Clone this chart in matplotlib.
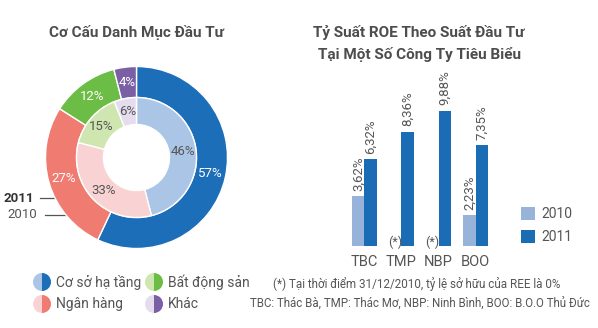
import matplotlib
matplotlib.use('Agg')
import matplotlib.pyplot as plt
from matplotlib.patches import Wedge
import numpy as np

plt.rcParams['font.family'] = ['Roboto', 'DejaVu Sans']

# portfolio structure (%)
sectors = ['Cơ sở hạ tầng', 'Ngân hàng', 'Bất động sản', 'Khác']
share_2011 = [57, 27, 12, 4]
share_2010 = [46, 33, 15, 6]
dark_cols = ['#1b6eb7', '#f07b70', '#6cbd45', '#7b5fa5']
light_cols = ['#abc5e7', '#f9d3d3', '#cfe6b0', '#e5ddee']

# ROE by company (%), None = not held
companies = ['TBC', 'TMP', 'NBP', 'BOO']
roe_2010 = [3.62, None, None, 2.23]
roe_2011 = [6.32, 8.36, 9.88, 7.35]
c2010 = '#97b3d9'
c2011 = '#1a6cb4'

grey = '#555555'
W, H = 598, 328
fig = plt.figure(figsize=(W / 100, H / 100), dpi=100)

# ---------- donut ----------
cx, cy, R = 136.5, 157.5, 91
ax = fig.add_axes([(cx - R) / W, (H - cy - R) / H, 2 * R / W, 2 * R / H])
r_mid, r_hole = 60 / R, 33 / R

w_out, t_out, a_out = ax.pie(share_2011, colors=dark_cols, startangle=90, counterclock=False,
                             radius=1, autopct='%d%%', pctdistance=0.83,
                             wedgeprops=dict(width=1 - r_mid, edgecolor='white', linewidth=1))
w_in, t_in, a_in = ax.pie(share_2010, colors=light_cols, startangle=90, counterclock=False,
                          radius=r_mid, autopct='%d%%', pctdistance=(46.5 / R) / r_mid,
                          wedgeprops=dict(width=r_mid - r_hole, edgecolor='white', linewidth=1))
for t in a_out:
    t.set_color('white')
    t.set_fontsize(9.5)
for t in a_in:
    t.set_color(grey)
    t.set_fontsize(9.5)
ax.set_xlim(-1, 1)
ax.set_ylim(-1, 1)
ax.axis('off')

# ---------- bars ----------
x = np.arange(len(companies))
bw = 0.33
bx = fig.add_axes([345.7 / W, (H - 245.7) / H, 148.6 / W, 136.5 / H])
v10 = [np.nan if v is None else v for v in roe_2010]
b10 = bx.bar(x - bw / 2, v10, bw, color=c2010, label='2010')
b11 = bx.bar(x + bw / 2, roe_2011, bw, color=c2011, label='2011')
bx.set_xlim(-0.5, 3.5)
bx.set_ylim(0, 10)
for i in range(len(companies)):
    if roe_2010[i] is None:
        bx.text(x[i] - bw / 2, 0.25, '(*)', ha='center', va='center', color=grey, fontsize=9)
    else:
        bx.annotate(f'{roe_2010[i]:.2f}%'.replace('.', ','), (x[i] - bw / 2, roe_2010[i]),
                    xytext=(0, 4), textcoords='offset points', rotation=90,
                    ha='center', va='bottom', color=grey, fontsize=9.5, annotation_clip=False)
    bx.annotate(f'{roe_2011[i]:.2f}%'.replace('.', ','), (x[i] + bw / 2, roe_2011[i]),
                xytext=(0, 4), textcoords='offset points', rotation=90,
                ha='center', va='bottom', color=grey, fontsize=9.5, annotation_clip=False)
bx.set_xticks(x)
bx.set_xticklabels(companies, color=grey, fontsize=10.5)
bx.tick_params(axis='x', length=0, pad=7)
bx.set_yticks([])
for s in bx.spines.values():
    s.set_visible(False)
bx.legend(handles=[b10, b11], loc='upper left', bbox_to_anchor=(521 / W, 1 - 207 / H),
          bbox_transform=fig.transFigure, frameon=False, fontsize=10, labelcolor=grey,
          handlelength=1.0, handleheight=1.1, handletextpad=0.5, labelspacing=0.6,
          borderpad=0, borderaxespad=0)

# ---------- overlay: titles, pointers, legend, notes ----------
ov = fig.add_axes([0, 0, 1, 1], zorder=-1)
ov.set_xlim(0, W)
ov.set_ylim(H, 0)
ov.axis('off')

ov.text(136, 32, 'Cơ Cấu Danh Mục Đầu Tư', ha='center', va='center',
        fontsize=11, fontweight='bold', color='#4d4d4d')
ov.text(419, 33, 'Tỷ Suất ROE Theo Suất Đầu Tư', ha='center', va='center',
        fontsize=11, fontweight='bold', color='#4d4d4d')
ov.text(419, 55, 'Tại Một Số Công Ty Tiêu Biểu', ha='center', va='center',
        fontsize=11, fontweight='bold', color='#4d4d4d')

ov.text(34, 198, '2011', ha='right', va='center', fontsize=9.5, fontweight='bold', color='#333333')
ov.plot([40, 57], [198, 198], color=grey, lw=0.9)
ov.text(37, 215, '2010', ha='right', va='center', fontsize=9.5, color=grey)
ov.plot([45, 110], [215, 215], color=grey, lw=0.9)

leg_pos = [(42, 282), (42, 304), (154, 282), (154, 304)]
for (lx, ly), name, dc, lc in zip(leg_pos, sectors, dark_cols, light_cols):
    ov.add_patch(Wedge((lx, ly), 9, 90, 270, color=lc, lw=0))
    ov.add_patch(Wedge((lx, ly), 9, -90, 90, color=dc, lw=0))
    ov.text(lx + 14, ly, name, ha='left', va='center', fontsize=10, color=grey)

ov.text(273, 284, '(*) Tại thời điểm 31/12/2010, tỷ lệ sở hữu của REE là 0%',
        ha='left', va='center', fontsize=8.4, color=grey)
ov.text(250, 304, 'TBC: Thác Bà, TMP: Thác Mơ, NBP: Ninh Bình, BOO: B.O.O Thủ Đức',
        ha='left', va='center', fontsize=8.3, color=grey)

fig.savefig('out.png', dpi=100)
